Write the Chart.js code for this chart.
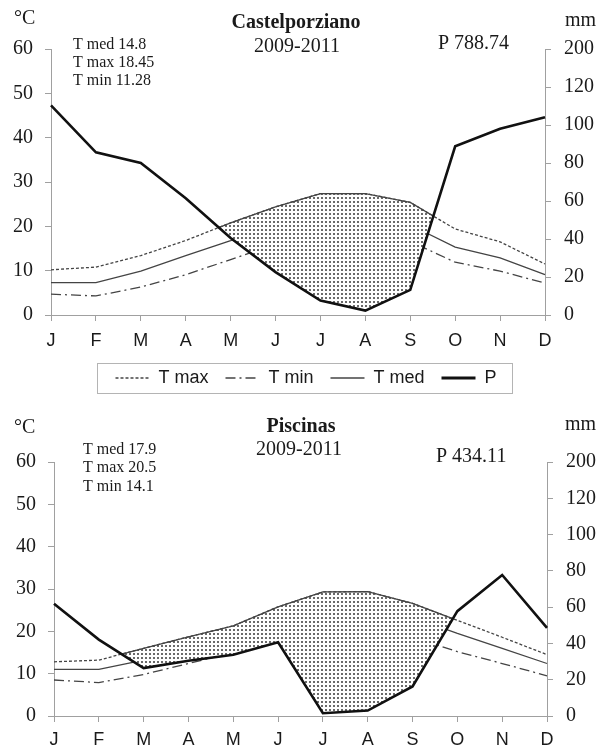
<!DOCTYPE html>
<html><head><meta charset="utf-8">
<script src="https://cdn.jsdelivr.net/npm/chart.js@4.4.1/dist/chart.umd.min.js"></script>
<style>
html,body{margin:0;padding:0;background:#fff;width:598px;height:751px;overflow:hidden}
.box{position:absolute;left:0;width:598px}
#b1{top:0;height:400px}
#b2{top:400px;height:351px}
</style></head><body>
<div class="box" id="b1"><canvas id="c1"></canvas></div>
<div class="box" id="b2"><canvas id="c2"></canvas></div>
<script>
// ---------- data ----------
const months = ['J','F','M','A','M','J','J','A','S','O','N','D'];
const seriesNames = ['T max','T min','T med','P'];
const pTickLabels = ['0','20','40','60','80','100','120','200'];

// Castelporziano 2009-2011
const castTitle = 'Castelporziano';
const castPeriod = '2009-2011';
const castStats = ['T med 14.8','T max 18.45','T min 11.28'];
const castPtotal = 'P 788.74';
const castTmax = [10.2, 10.8, 13.4, 16.8, 20.8, 24.4, 27.4, 27.4, 25.4, 19.4, 16.5, 11.5];
const castTmin = [4.7, 4.3, 6.3, 9.1, 12.5, 16.0, 19.5, 19.8, 16.6, 11.9, 9.9, 7.2];
const castTmed = [7.3, 7.3, 9.9, 13.4, 16.8, 20.5, 23.5, 23.8, 20.3, 15.3, 12.9, 9.1];
const castP    = [110.3, 85.6, 80.0, 61.4, 40.5, 22.6, 7.6, 2.3, 13.2, 88.8, 98.0, 104.1];

// Piscinas 2009-2011
const pisTitle = 'Piscinas';
const pisPeriod = '2009-2011';
const pisStats = ['T med 17.9','T max 20.5','T min 14.1'];
const pisPtotal = 'P 434.11';
const pisTmax = [12.8, 13.2, 16.0, 18.7, 21.3, 25.8, 29.3, 29.4, 26.6, 22.6, 18.6, 14.5];
const pisTmin = [8.5, 7.9, 9.8, 12.4, 15.0, 18.5, 21.5, 22.0, 18.6, 15.2, 12.4, 9.5];
const pisTmed = [11.0, 11.0, 13.2, 15.5, 18.0, 22.0, 26.0, 26.5, 23.3, 19.5, 16.0, 12.4];
const pisP    = [61.9, 42.1, 26.4, 30.5, 33.8, 40.6, 1.5, 3.0, 16.3, 57.8, 77.7, 48.6];

// ---------- styling helpers ----------
const SERIF = "'Times New Roman','Liberation Serif',serif";
const SANS = "Arial,'Liberation Sans',sans-serif";
const TXT = '#1a1a1a';
const AX = '#a0a0a0';
const LINE = '#444444';

function dotPattern() {
  const c = document.createElement('canvas');
  c.width = 4; c.height = 4;
  const g = c.getContext('2d');
  g.fillStyle = '#ffffff'; g.fillRect(0, 0, 4, 4);
  g.fillStyle = '#6a6a6a'; g.fillRect(1, 1, 2, 2);
  return g.createPattern(c, 'repeat');
}

// text annotations drawn on the canvas
const notesPlugin = {
  id: 'notes',
  afterDraw(chart, args, o) {
    const ctx = chart.ctx;
    ctx.save();
    ctx.fillStyle = TXT;
    ctx.textBaseline = 'middle';
    (o.items || []).forEach(t => {
      ctx.font = t.font;
      ctx.textAlign = t.align || 'left';
      ctx.fillText(t.text, t.x, t.y);
    });
    ctx.restore();
  }
};

// solid upper boundary of the dry (dotted) area
const dryEdgePlugin = {
  id: 'dryEdge',
  beforeDatasetDraw(chart, args) {
    if (args.index !== 3) return;
    const tm = chart.getDatasetMeta(0).data;
    const pm = chart.getDatasetMeta(3).data;
    const a = chart.chartArea;
    const ctx = chart.ctx;
    ctx.save();
    ctx.beginPath();
    ctx.moveTo(pm[0].x, a.top);
    pm.forEach(p => ctx.lineTo(p.x, p.y));
    ctx.lineTo(pm[pm.length - 1].x, a.top);
    ctx.closePath();
    ctx.clip();
    ctx.beginPath();
    tm.forEach((p, i) => i ? ctx.lineTo(p.x, p.y) : ctx.moveTo(p.x, p.y));
    ctx.setLineDash([]);
    ctx.lineWidth = 1.3;
    ctx.strokeStyle = LINE;
    ctx.stroke();
    ctx.restore();
  }
};

// move the legend row slightly right and draw a border round it
const legendBoxPlugin = {
  id: 'legendBox',
  afterUpdate(chart, args, o) {
    const lg = chart.legend;
    if (!lg || !lg.options.display) return;
    const dx = o.dx || 0;
    lg.left += dx; lg.right += dx;
    (lg.legendHitBoxes || []).forEach(h => { h.left += dx; });
  },
  afterDraw(chart) {
    const lg = chart.legend;
    if (!lg || !lg.options.display || !lg.legendHitBoxes || !lg.legendHitBoxes.length) return;
    const hb = lg.legendHitBoxes;
    const first = hb[0], last = hb[hb.length - 1];
    const cy = first.top + first.height / 2;
    const ctx = chart.ctx;
    ctx.save();
    ctx.strokeStyle = '#b4b4b4';
    ctx.lineWidth = 1;
    ctx.strokeRect(Math.round(first.left - 18) + 0.5, Math.round(cy - 15) + 0.5,
                   Math.round(last.left + last.width + 16 - (first.left - 18)), 30);
    ctx.restore();
  }
};

function makeChart(id, d, L) {
  const pattern = dotPattern();
  return new Chart(document.getElementById(id), {
    type: 'line',
    data: {
      labels: months,
      datasets: [
        { label: seriesNames[0], data: d.tmax, yAxisID: 'y', order: 1,
          borderColor: LINE, borderWidth: 1.3, borderDash: [3, 2],
          pointRadius: 0, tension: 0,
          fill: { target: 3, above: pattern, below: 'rgba(0,0,0,0)' } },
        { label: seriesNames[1], data: d.tmin, yAxisID: 'y', order: 2,
          borderColor: LINE, borderWidth: 1.3, borderDash: [10, 4, 2, 4],
          pointRadius: 0, tension: 0, fill: false },
        { label: seriesNames[2], data: d.tmed, yAxisID: 'y', order: 3,
          borderColor: LINE, borderWidth: 1.3,
          pointRadius: 0, tension: 0, fill: false },
        { label: seriesNames[3], data: d.p, yAxisID: 'yP', order: 0,
          borderColor: '#111111', borderWidth: 2.6,
          pointRadius: 0, tension: 0, fill: false }
      ]
    },
    options: {
      responsive: true,
      maintainAspectRatio: false,
      animation: false,
      devicePixelRatio: 1,
      layout: { padding: { top: L.top, bottom: L.bottom, left: 0, right: 0 } },
      scales: {
        x: {
          type: 'category', offset: false,
          grid: { drawOnChartArea: false, drawTicks: true, tickLength: 6, color: AX, offset: false },
          border: { color: AX, width: 1 },
          ticks: { color: TXT, font: { family: SANS, size: 18 }, padding: L.xPad, maxRotation: 0, autoSkip: false },
          afterFit: s => { s.height = L.xH; }
        },
        y: {
          position: 'left', min: 0, max: 60,
          ticks: { stepSize: 10, color: TXT, font: { family: SERIF, size: 20 }, padding: 12 },
          grid: { drawOnChartArea: false, drawTicks: true, tickLength: 6, color: AX },
          border: { color: AX, width: 1 },
          afterFit: s => { s.width = L.left; }
        },
        yP: {
          position: 'right', min: 0, max: 140,
          ticks: { stepSize: 20, color: TXT, font: { family: SERIF, size: 20 }, padding: 13,
                   callback: (v, i) => pTickLabels[i] },
          grid: { drawOnChartArea: false, drawTicks: true, tickLength: 6, color: AX },
          border: { color: AX, width: 1 },
          afterFit: s => { s.width = L.right; }
        }
      },
      plugins: {
        title: { display: false },
        tooltip: { enabled: false },
        legend: {
          display: L.legend, position: 'bottom',
          labels: {
            usePointStyle: true, pointStyleWidth: 34, boxHeight: 18, padding: 17,
            color: TXT, font: { family: SANS, size: 18 },
            sort: (a, b) => a.datasetIndex - b.datasetIndex,
            generateLabels: ch => ch.data.datasets.map((ds, i) => ({
              text: ds.label, datasetIndex: i, hidden: false,
              strokeStyle: ds.borderColor, fillStyle: ds.borderColor,
              lineWidth: ds.borderWidth + (i === 3 ? 0.6 : 0.4), lineDash: ds.borderDash || [],
              pointStyle: 'line', fontColor: TXT
            }))
          }
        },
        legendBox: { dx: L.legendDx || 0 },
        notes: { items: L.notes }
      }
    },
    plugins: [notesPlugin, dryEdgePlugin, legendBoxPlugin]
  });
}

const titleFont = 'bold 20px ' + SERIF;
const bigFont = '20px ' + SERIF;
const smallFont = '16px ' + SERIF;

makeChart('c1', { tmax: castTmax, tmin: castTmin, tmed: castTmed, p: castP }, {
  top: 49, bottom: 3, left: 51, right: 53, xH: 37, xPad: 9, legend: true, legendDx: 7,
  notes: [
    { text: '°C', x: 14, y: 19, font: bigFont },
    { text: castTitle, x: 296, y: 23, font: titleFont, align: 'center' },
    { text: castPeriod, x: 297, y: 47, font: bigFont, align: 'center' },
    { text: castStats[0], x: 73, y: 45, font: smallFont },
    { text: castStats[1], x: 73, y: 63, font: smallFont },
    { text: castStats[2], x: 73, y: 81, font: smallFont },
    { text: castPtotal, x: 438, y: 44, font: bigFont },
    { text: 'mm', x: 565, y: 21, font: bigFont }
  ]
});

makeChart('c2', { tmax: pisTmax, tmin: pisTmin, tmed: pisTmed, p: pisP }, {
  top: 62, bottom: 0, left: 54, right: 51, xH: 35, xPad: 7, legend: false,
  notes: [
    { text: '°C', x: 14, y: 28, font: bigFont },
    { text: pisTitle, x: 301, y: 27, font: titleFont, align: 'center' },
    { text: pisPeriod, x: 299, y: 50, font: bigFont, align: 'center' },
    { text: pisStats[0], x: 83, y: 50, font: smallFont },
    { text: pisStats[1], x: 83, y: 68, font: smallFont },
    { text: pisStats[2], x: 83, y: 87, font: smallFont },
    { text: pisPtotal, x: 436, y: 57, font: bigFont },
    { text: 'mm', x: 565, y: 25, font: bigFont }
  ]
});
</script>
</body></html>
